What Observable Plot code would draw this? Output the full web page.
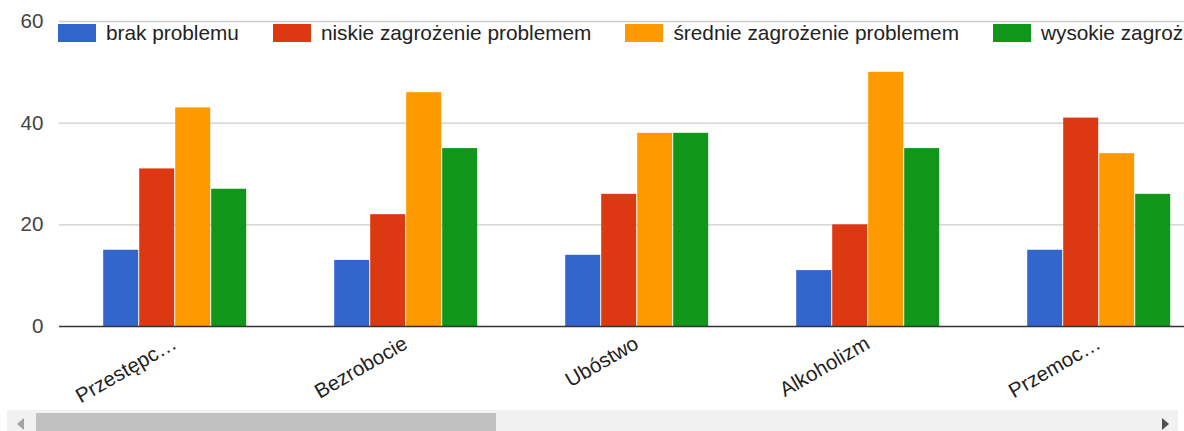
<!DOCTYPE html>
<html>
<head>
<meta charset="utf-8">
<script src="https://cdn.jsdelivr.net/npm/d3@7"></script>
<script src="https://cdn.jsdelivr.net/npm/@observablehq/plot@0.6"></script>
<style>
  html, body { margin: 0; padding: 0; background: #fff; width: 1184px; height: 431px; overflow: hidden; }
  #wrap { position: relative; width: 1184px; height: 431px; overflow: hidden; font-family: "Liberation Sans", Arial, sans-serif; }
  #chart { position: absolute; left: 0; top: 0; width: 1215px; }
  #chart svg { max-width: none !important; }
  #legend { position: absolute; left: 58px; top: 24px; display: flex; white-space: nowrap; font-size: 20.8px; color: #222; }
  .item { display: flex; align-items: center; height: 18px; margin-right: 34px; }
  .sw { width: 38px; height: 18px; margin-right: 10px; flex: none; }
  #track { position: absolute; left: 7px; top: 410px; width: 1171px; height: 21px; background: #f1f1f1; }
  #thumb { position: absolute; left: 36px; top: 413px; width: 460px; height: 18px; background: #c1c1c1; }
  #larr { position: absolute; left: 17px; top: 418px; width: 0; height: 0; border-top: 6px solid transparent; border-bottom: 6px solid transparent; border-right: 7px solid #a3a3a3; }
  #rarr { position: absolute; left: 1162px; top: 418px; width: 0; height: 0; border-top: 6px solid transparent; border-bottom: 6px solid transparent; border-left: 7px solid #505050; }
</style>
</head>
<body>
<div id="wrap">
  <div id="chart"></div>
  <div id="legend"></div>
  <div id="track"></div>
  <div id="thumb"></div>
  <div id="larr"></div>
  <div id="rarr"></div>
</div>
<script>
const categories = ["Przestępc…", "Bezrobocie", "Ubóstwo", "Alkoholizm", "Przemoc…"];
const seriesNames = ["brak problemu", "niskie zagrożenie problemem", "średnie zagrożenie problemem", "wysokie zagrożenie problemem"];
const brak = [15, 13, 14, 11, 15];
const niskie = [31, 22, 26, 20, 41];
const srednie = [43, 46, 38, 50, 34];
const wysokie = [27, 35, 38, 35, 26];
const colors = ["#3366cc", "#dc3912", "#ff9900", "#109618"];
const yTicks = [0, 20, 40, 60];

const seriesValues = [brak, niskie, srednie, wysokie];
const data = categories.flatMap((c, i) =>
  seriesNames.map((s, j) => ({category: c, series: s, value: seriesValues[j][i]}))
);

const plot = Plot.plot({
  width: 1215,
  height: 408,
  marginLeft: 58.8,
  marginRight: 0,
  marginTop: 21,
  marginBottom: 82,
  style: {fontFamily: "'Liberation Sans', Arial, sans-serif", fontSize: "20.6px", color: "#444", background: "transparent", overflow: "visible", maxWidth: "none"},
  fx: {domain: categories, paddingInner: 0, paddingOuter: 0, axis: null, label: null},
  x: {domain: seriesNames, paddingInner: 0.0416, paddingOuter: 1.227, axis: null},
  y: {domain: [0, 60], ticks: yTicks, axis: "left", tickSize: 0, tickPadding: 16, label: null},
  color: {domain: seriesNames, range: colors},
  marks: [
    Plot.ruleY(yTicks.filter(d => d > 0), {stroke: "#cccccc", strokeWidth: 1.3}),
    Plot.barY(data, {fx: "category", x: "series", y: "value", fill: "series"}),
    Plot.ruleY([0], {stroke: "#333", strokeWidth: 1.5}),
    Plot.text(categories, {fx: d => d, text: d => d, frameAnchor: "bottom", rotate: -30, textAnchor: "end", lineAnchor: "bottom", dx: 3, dy: 21, fill: "#222", fontSize: 20.6})
  ]
});
document.getElementById("chart").appendChild(plot);

const legend = document.getElementById("legend");
seriesNames.forEach((s, i) => {
  const item = document.createElement("div");
  item.className = "item";
  const sw = document.createElement("div");
  sw.className = "sw";
  sw.style.background = colors[i];
  const t = document.createElement("span");
  t.textContent = s;
  item.appendChild(sw);
  item.appendChild(t);
  legend.appendChild(item);
});
</script>
</body>
</html>
